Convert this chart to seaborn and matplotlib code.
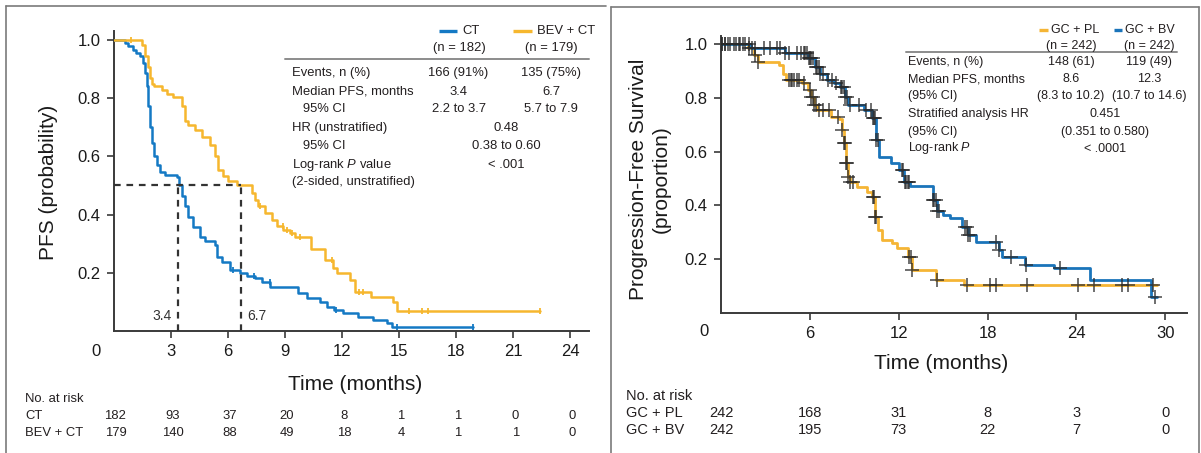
import numpy as np
import matplotlib
matplotlib.use("Agg")
import matplotlib.pyplot as plt
import matplotlib.transforms as mtransforms
from matplotlib import font_manager
from matplotlib.lines import Line2D
import seaborn as sns

# ---------------- left panel: CT vs BEV + CT ----------------
ct_time = [0, 0.6, 0.78, 1.04, 1.2, 1.39, 1.57, 1.66, 1.74, 1.83, 1.92, 2.0, 2.15, 2.27, 2.44,
           2.7, 3.32, 3.42, 3.62, 3.76, 3.93, 4.19, 4.55, 4.81, 5.33, 5.42, 5.69, 6.12, 6.65,
           7.0, 7.45, 7.79, 8.22, 9.71, 10.15, 10.85, 11.2, 11.6, 12.08, 12.86, 13.65, 14.36,
           14.62, 18.9]
ct_surv = [1.0, 0.988, 0.977, 0.966, 0.954, 0.943, 0.92, 0.886, 0.84, 0.771, 0.702, 0.645, 0.6,
           0.571, 0.548, 0.536, 0.53, 0.5, 0.465, 0.428, 0.393, 0.359, 0.325, 0.311, 0.296, 0.256,
           0.239, 0.21, 0.201, 0.19, 0.182, 0.17, 0.153, 0.13, 0.113, 0.101, 0.084, 0.073, 0.062,
           0.05, 0.039, 0.027, 0.016, 0.016]
ct_cens = [6.3, 7.4, 8.2, 11.7, 14.9, 18.9]

bev_time = [0, 1.48, 1.66, 1.83, 1.92, 2.0, 2.15, 2.53, 2.8, 3.14, 3.58, 3.76, 3.93, 4.28, 4.63,
            5.07, 5.33, 5.51, 5.77, 6.03, 6.47, 7.26, 7.44, 7.61, 7.96, 8.31, 8.58, 8.92, 9.28,
            9.54, 10.4, 11.1, 11.55, 11.73, 12.43, 12.69, 13.52, 14.66, 14.91, 22.4]
bev_surv = [1.0, 0.983, 0.943, 0.908, 0.868, 0.849, 0.84, 0.828, 0.815, 0.805, 0.771, 0.72,
            0.708, 0.691, 0.668, 0.639, 0.6, 0.554, 0.531, 0.514, 0.5, 0.474, 0.451, 0.428,
            0.405, 0.382, 0.361, 0.348, 0.338, 0.325, 0.283, 0.245, 0.216, 0.199, 0.176, 0.136,
            0.119, 0.101, 0.071, 0.071]
bev_cens = [0.92, 7.7, 8.9, 9.1, 9.4, 9.8, 11.5, 12.9, 13.1, 15.5, 16.2, 16.5, 22.4]

medians_left = [3.4, 6.7]
risk_ticks_left = [0, 3, 6, 9, 12, 15, 18, 21, 24]
risk_ct = [182, 93, 37, 20, 8, 1, 1, 0, 0]
risk_bev = [179, 140, 88, 49, 18, 4, 1, 1, 0]

# ---------------- right panel: GC + PL vs GC + BV ----------------
bv_time = [0, 2.0, 4.3, 5.9, 6.35, 6.7, 7.14, 7.6, 8.04, 8.38, 8.6, 9.66, 10.2, 10.44, 10.7,
           11.48, 12.0, 12.38, 12.77, 14.3, 14.6, 15.0, 15.5, 16.3, 16.65, 17.2, 18.75, 19.0,
           20.5, 22.5, 24.9, 29.05, 29.45]
bv_surv = [1.0, 0.985, 0.966, 0.948, 0.916, 0.89, 0.867, 0.855, 0.842, 0.804, 0.773, 0.755,
           0.724, 0.643, 0.581, 0.556, 0.531, 0.488, 0.47, 0.42, 0.38, 0.364, 0.352, 0.32,
           0.289, 0.264, 0.234, 0.209, 0.178, 0.165, 0.122, 0.06, 0.06]
bv_cens = [0.1, 0.3, 0.5, 0.9, 1.2, 1.5, 1.9, 2.1, 2.3, 2.9, 3.3, 3.8, 4.0, 4.3, 4.6, 5.1, 5.4,
           5.6, 5.7, 5.8, 5.95, 6.0, 6.1, 6.2, 6.4, 6.5, 6.6, 6.7, 6.9, 7.2, 7.5, 7.8, 8.1, 8.2,
           8.3, 8.4, 8.5, 8.7, 9.3, 9.8, 10.1, 10.25, 10.3, 10.4, 10.5, 10.6, 12.2, 12.3, 12.4,
           12.5, 12.6, 12.7, 14.3, 14.4, 14.5, 14.6, 14.7, 16.5, 16.6, 16.7, 16.8, 18.6, 18.8,
           19.6, 20.6, 22.9, 29.3]

pl_time = [0, 1.8, 2.2, 2.5, 3.9, 4.2, 4.4, 5.45, 5.9, 6.1, 6.3, 6.5, 7.4, 8.0, 8.15, 8.3, 8.45,
           8.6, 8.7, 9.17, 9.84, 10.2, 10.4, 10.6, 10.86, 11.53, 11.87, 12.6, 12.88, 14.5, 16.4,
           29.45]
pl_surv = [1.0, 0.985, 0.96, 0.935, 0.922, 0.89, 0.867, 0.854, 0.83, 0.804, 0.773, 0.755, 0.73,
           0.72, 0.68, 0.63, 0.557, 0.506, 0.488, 0.469, 0.451, 0.432, 0.358, 0.308, 0.271,
           0.258, 0.24, 0.209, 0.16, 0.122, 0.103, 0.103]
pl_cens = [0.1, 0.3, 0.6, 1.0, 1.3, 1.6, 1.9, 2.3, 2.5, 4.6, 4.7, 4.8, 4.9, 5.1, 5.3, 5.6, 6.0,
           6.1, 6.2, 6.3, 6.4, 6.6, 6.9, 7.3, 7.9, 8.2, 8.3, 8.4, 8.45, 8.5, 8.6, 8.7, 8.9, 10.25,
           10.3, 10.4, 10.5, 12.7, 12.8, 12.9, 14.6, 16.6, 18.2, 18.6, 20.7, 24.1, 25.2, 27.1,
           27.5, 29.2]

risk_ticks_right = [0, 6, 12, 18, 24, 30]
risk_pl = [242, 168, 31, 8, 3, 0]
risk_bv = [242, 195, 73, 22, 7, 0]

# summary tables
left_rows = ["Events, n (%)", "Median PFS, months", "   95% CI", "HR (unstratified)", "   95% CI",
             "Log-rank $\\mathit{P}$ value", "(2-sided, unstratified)"]
left_ct_vals = ["166 (91%)", "3.4", "2.2 to 3.7"]
left_bev_vals = ["135 (75%)", "6.7", "5.7 to 7.9"]
left_joint_vals = ["0.48", "0.38 to 0.60", "< .001"]

right_rows = ["Events, n (%)", "Median PFS, months", "(95% CI)", "Stratified analysis HR",
              "(95% CI)", "Log-rank $\\mathit{P}$"]
right_pl_vals = ["148 (61)", "8.6", "(8.3 to 10.2)"]
right_bv_vals = ["119 (49)", "12.3", "(10.7 to 14.6)"]
right_joint_vals = ["0.451", "(0.351 to 0.580)", "< .0001"]

BLUE_L, ORANGE_L = "#1479c4", "#f6b72e"
BLUE_R, ORANGE_R = "#1a74ba", "#f5b535"
INK = "#231f20"
AXC = "#3a3a3a"

sns.set_theme(style="white")
plt.rcParams["font.family"] = ["Liberation Sans", "DejaVu Sans"]

try:
    font_manager.findfont(font_manager.FontProperties(family="Liberation Sans Narrow"),
                          fallback_to_default=False)
    narrow, tsize, rsize = ["Liberation Sans Narrow", "Liberation Sans", "DejaVu Sans"], 10.5, 10.5
    plt.rcParams["mathtext.fontset"] = "custom"
    plt.rcParams["mathtext.it"] = "Liberation Sans Narrow:italic"
    plt.rcParams["mathtext.rm"] = "Liberation Sans Narrow"
except ValueError:
    narrow, tsize, rsize = ["Liberation Sans", "DejaVu Sans"], 9.4, 9.0
    plt.rcParams["mathtext.fontset"] = "custom"
    plt.rcParams["mathtext.it"] = "Liberation Sans:italic"
    plt.rcParams["mathtext.rm"] = "Liberation Sans"

W, H = 1201, 453
fig = plt.figure(figsize=(W / 100, H / 100), dpi=100)
fig.patch.set_facecolor("white")


def fx(px):
    return px / W


def fy(py):
    return 1 - py / H


def txt(px, py, s, ha="left", size=None, family=None):
    fig.text(fx(px), fy(py), s, ha=ha, va="center", color=INK,
             fontsize=size or tsize, family=family or narrow)


def legline(x0, x1, py, color):
    fig.add_artist(Line2D([fx(x0), fx(x1)], [fy(py), fy(py)], color=color, lw=2.4,
                          solid_capstyle="butt"))


def km(ax, t, s, cens, color, lw, cmark, ccolor, csize, clw, alpha=1.0):
    sns.lineplot(x=t, y=s, ax=ax, color=color, lw=lw, drawstyle="steps-post",
                 estimator=None, sort=False, zorder=3)
    t_arr, s_arr = np.asarray(t), np.asarray(s)
    idx = np.searchsorted(t_arr, cens, side="right") - 1
    ax.plot(cens, s_arr[idx], ls="none", marker=cmark, ms=csize, mew=clw,
            color=ccolor, alpha=alpha, zorder=4)


def style_axis(ax, xmax, xticks):
    ax.set_xlim(0, xmax)
    ax.set_ylim(0, 1.03)
    ax.set_xticks(xticks)
    ax.set_yticks([0.2, 0.4, 0.6, 0.8, 1.0])
    ax.set_yticklabels(["0.2", "0.4", "0.6", "0.8", "1.0"])
    sns.despine(ax=ax)
    for sp in ("left", "bottom"):
        ax.spines[sp].set_color(AXC)
        ax.spines[sp].set_linewidth(1.4)
    ax.tick_params(bottom=True, left=True, direction="out", length=5, width=1.2,
                   color=AXC, pad=4.5, labelsize=12, labelcolor="#1a1a1a")
    ax.set_facecolor("white")


# ---------------- left axes ----------------
axL = fig.add_axes([fx(113.5), fy(331.25), (589.4 - 113.5) / W, (331.25 - 31) / H])
km(axL, ct_time, ct_surv, ct_cens, BLUE_L, 1.8, "|", BLUE_L, 5, 1.3)
km(axL, bev_time, bev_surv, bev_cens, ORANGE_L, 1.8, "|", ORANGE_L, 5, 1.3)
style_axis(axL, 25, risk_ticks_left[1:])
axL.hlines(0.5, 0, medians_left[1], colors="#333333", lw=1.6, linestyles=(0, (3, 2.6)), zorder=5)
axL.vlines(medians_left, 0, 0.5, colors="#333333", lw=1.6, linestyles=(0, (3, 2.6)), zorder=5)
axL.text(medians_left[0] - 0.35, 0.052, f"{medians_left[0]}", ha="right", va="center",
         fontsize=10, color="#333333")
axL.text(medians_left[1] + 0.3, 0.052, f"{medians_left[1]}", ha="left", va="center",
         fontsize=10, color="#333333")
axL.text(-0.94, -0.042, "0", transform=axL.get_xaxis_transform(), ha="center", va="top",
         fontsize=12, color="#1a1a1a")
axL.set_xlabel("Time (months)", fontsize=15, color="#1a1a1a")
axL.xaxis.set_label_coords(0.507, -0.176)
axL.xaxis.label.set_va("center")
axL.set_ylabel("PFS (probability)", fontsize=15, color="#1a1a1a")
axL.yaxis.set_label_coords(-0.136, 0.495)
axL.yaxis.label.set_va("center")

# ---------------- right axes ----------------
axR = fig.add_axes([fx(721), fy(312.7), (1187.4 - 721) / W, (312.7 - 36) / H])
km(axR, pl_time, pl_surv, pl_cens, ORANGE_R, 2.0, "+", "#2a2a2a", 10, 1.2, 0.8)
km(axR, bv_time, bv_surv, bv_cens, BLUE_R, 2.0, "+", "#2a2a2a", 10, 1.2, 0.8)
style_axis(axR, 31.5, risk_ticks_right[1:])
axR.text(-1.15, -0.042, "0", transform=axR.get_xaxis_transform(), ha="center", va="top",
         fontsize=12, color="#1a1a1a")
axR.set_xlabel("Time (months)", fontsize=15, color="#1a1a1a")
axR.xaxis.set_label_coords(0.471, -0.182)
axR.xaxis.label.set_va("center")
axR.set_ylabel("Progression-Free Survival\n(proportion)", fontsize=15, color="#1a1a1a",
               linespacing=1.25)
axR.yaxis.set_label_coords(-0.153, 0.483)
axR.yaxis.label.set_va("center")

# ---------------- left summary table ----------------
legline(439, 457, 31, BLUE_L)
txt(462, 31, "CT")
legline(513, 532, 31, ORANGE_L)
txt(537, 31, "BEV + CT")
txt(459, 48, "(n = 182)", ha="center")
txt(551, 48, "(n = 179)", ha="center")
fig.add_artist(Line2D([fx(285), fx(589)], [fy(59), fy(59)], color="#8c8c8c", lw=1.4))
row_y_left = [73, 92, 109, 128, 146, 165, 182]
for lab, py in zip(left_rows, row_y_left):
    txt(291.5, py, lab)
for v, py in zip(left_ct_vals, row_y_left[:3]):
    txt(458.5, py, v, ha="center")
for v, py in zip(left_bev_vals, row_y_left[:3]):
    txt(551, py, v, ha="center")
for v, py in zip(left_joint_vals, [row_y_left[3], row_y_left[4], row_y_left[5]]):
    txt(506, py, v, ha="center")

# ---------------- right summary table ----------------
legline(1039, 1048, 30, ORANGE_R)
txt(1051, 30, "GC + PL", size=rsize)
legline(1114, 1122, 30, BLUE_R)
txt(1125, 30, "GC + BV", size=rsize)
txt(1071, 46.5, "(n = 242)", ha="center", size=rsize)
txt(1149, 46.5, "(n = 242)", ha="center", size=rsize)
fig.add_artist(Line2D([fx(906), fx(1177)], [fy(52), fy(52)], color="#8c8c8c", lw=1.4))
row_y_right = [62, 79, 96.5, 114, 131.5, 148.5]
for lab, py in zip(right_rows, row_y_right):
    txt(908, py, lab, size=rsize)
for v, py in zip(right_pl_vals, row_y_right[:3]):
    txt(1071, py, v, ha="center", size=rsize)
for v, py in zip(right_bv_vals, row_y_right[:3]):
    txt(1149, py, v, ha="center", size=rsize)
for v, py in zip(right_joint_vals, row_y_right[3:]):
    txt(1105, py, v, ha="center", size=rsize)

# ---------------- number at risk ----------------
trL = mtransforms.blended_transform_factory(axL.transData, fig.transFigure)
txt(25, 399, "No. at risk")
txt(25, 416, "CT")
txt(25, 433, "BEV + CT")
for t, a, b in zip(risk_ticks_left, risk_ct, risk_bev):
    fig.text(t + 0.1, fy(416), str(a), transform=trL, ha="center", va="center",
             fontsize=tsize, family=narrow, color=INK)
    fig.text(t + 0.1, fy(433), str(b), transform=trL, ha="center", va="center",
             fontsize=tsize, family=narrow, color=INK)

trR = mtransforms.blended_transform_factory(axR.transData, fig.transFigure)
rfam = ["Liberation Sans", "DejaVu Sans"]
txt(626, 396, "No. at risk", size=10.5, family=rfam)
txt(626, 413, "GC + PL", size=10.5, family=rfam)
txt(626, 430, "GC + BV", size=10.5, family=rfam)
for t, a, b in zip(risk_ticks_right, risk_pl, risk_bv):
    fig.text(t, fy(413), str(a), transform=trR, ha="center", va="center",
             fontsize=10.5, family=rfam, color=INK)
    fig.text(t, fy(430), str(b), transform=trR, ha="center", va="center",
             fontsize=10.5, family=rfam, color=INK)

# ---------------- panel frames ----------------
frame = dict(color="#7a7a7a", lw=1.2)
fig.add_artist(Line2D([fx(6), fx(606)], [fy(6), fy(6)], **frame))
fig.add_artist(Line2D([fx(6), fx(6)], [fy(6), 0], **frame))
fig.add_artist(Line2D([fx(611), fx(1199)], [fy(7), fy(7)], **frame))
fig.add_artist(Line2D([fx(611), fx(611)], [fy(7), 0], **frame))
fig.add_artist(Line2D([fx(1199), fx(1199)], [fy(7), 0], **frame))

fig.savefig("out.png", dpi=100, facecolor="white")
